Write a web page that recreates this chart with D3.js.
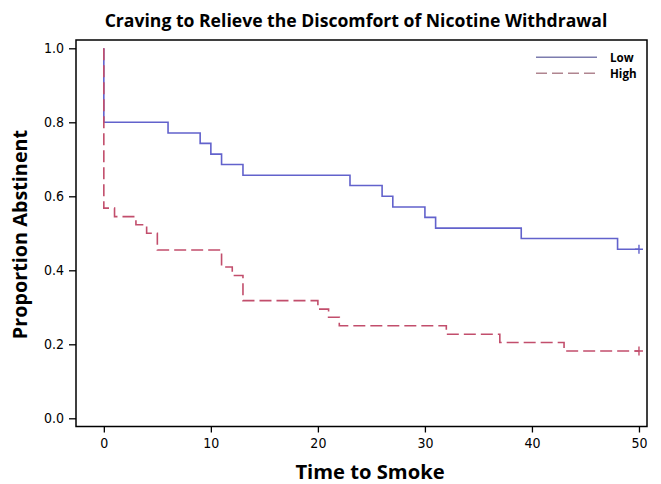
<!DOCTYPE html>
<html>
<head>
<meta charset="utf-8">
<script src="https://cdn.jsdelivr.net/npm/d3@7"></script>
<style>
  body { margin: 0; background: #fff; }
  .tick text { font-family: "Liberation Sans Narrow", "DejaVu Sans Condensed", sans-serif; font-size: 14px; fill: #000; }
  .tick line { stroke: #000; stroke-width: 1.3px; }
</style>
</head>
<body>
<svg id="chart"></svg>
<script>
// Kaplan-Meier steps
const groups = ['Low', 'High'];
const lowTimes = [0, 0, 6, 9, 10, 11, 13, 23, 26, 27, 30, 31, 39, 48, 50];
const lowSurv = [1.0, 0.800, 0.771, 0.743, 0.714, 0.686, 0.657, 0.629, 0.600, 0.571, 0.543, 0.514, 0.486, 0.457, 0.457];
const highTimes = [0, 0, 1, 3, 4, 5, 11, 12, 13, 20, 21, 22, 32, 37, 43, 50];
const highSurv = [1.0, 0.568, 0.545, 0.523, 0.500, 0.455, 0.409, 0.386, 0.318, 0.295, 0.273, 0.250, 0.227, 0.205, 0.182, 0.182];
const xTicks = [0, 10, 20, 30, 40, 50];
const yTicks = [0.0, 0.2, 0.4, 0.6, 0.8, 1.0];

let w = 661;
let h = 484;
let box = {left: 76, right: 647, top: 40, bottom: 426.5};

let colors = (i) => ['#6262cc', '#c24e6c'][i];
let legendColors = (i) => ['#7c7cae', '#b08590'][i];

let svg = d3.select('#chart')
    .attr('width', w)
    .attr('height', h);

let x = d3.scaleLinear()
    .domain([-2.6, 50.75])
    .range([box.left, box.right]);

let y = d3.scaleLinear()
    .domain([0, 1])
    .range([418.3, 48.3]);

//title
svg.append('text')
    .attr('x', 356)
    .attr('y', 27)
    .attr('text-anchor', 'middle')
    .style('font-family', '"Open Sans", sans-serif')
    .style('font-weight', 'bold')
    .style('font-size', '17.6px')
    .text('Craving to Relieve the Discomfort of Nicotine Withdrawal');

//axes
let xAxis = svg.append('g')
    .attr('transform', `translate(0,${box.bottom})`)
    .call(d3.axisBottom(x).tickValues(xTicks).tickSize(6).tickPadding(6));
xAxis.select('.domain').remove();

let yAxis = svg.append('g')
    .attr('transform', `translate(${box.left},0)`)
    .call(d3.axisLeft(y).tickValues(yTicks).tickSize(7).tickPadding(5).tickFormat(d3.format('.1f')));
yAxis.select('.domain').remove();

//axis labels
svg.append('text')
    .attr('x', 370)
    .attr('y', 479)
    .attr('text-anchor', 'middle')
    .style('font-family', '"Open Sans", sans-serif')
    .style('font-weight', 'bold')
    .style('font-size', '20.2px')
    .text('Time to Smoke');

svg.append('text')
    .attr('transform', 'translate(27,234.5) rotate(-90)')
    .attr('text-anchor', 'middle')
    .style('font-family', '"Open Sans", sans-serif')
    .style('font-weight', 'bold')
    .style('font-size', '19.8px')
    .text('Proportion Abstinent');

//step curves
let line = d3.line()
    .x((d) => x(d[0]))
    .y((d) => y(d[1]))
    .curve(d3.curveStepAfter);

let series = [d3.zip(lowTimes, lowSurv), d3.zip(highTimes, highSurv)];

series.forEach((pts, i) => {
    svg.append('path')
        .datum(pts)
        .attr('d', line)
        .attr('fill', 'none')
        .attr('stroke', colors(i))
        .attr('stroke-width', 1.6)
        .attr('stroke-dasharray', i == 1 ? '12,5' : null);

    //censor mark at the last time
    let last = pts[pts.length - 1];
    svg.append('path')
        .attr('d', `M${x(last[0])},${y(last[1]) - 4.5}V${y(last[1]) + 4.5}M${x(last[0]) - 4},${y(last[1])}H${x(last[0]) + 4}`)
        .attr('stroke', colors(i))
        .attr('stroke-width', 1.4);
});

//frame
svg.append('rect')
    .attr('x', box.left)
    .attr('y', box.top)
    .attr('width', box.right - box.left)
    .attr('height', box.bottom - box.top)
    .attr('fill', 'none')
    .attr('stroke', '#000')
    .attr('stroke-width', 1.5);

//legend
let legend = svg.selectAll('g.legend')
    .data(groups)
    .enter()
    .append('g')
        .attr('class', 'legend')
        .attr('transform', (d, i) => `translate(0,${57.3 + i * 16})`);
legend.append('line')
    .attr('x1', 536)
    .attr('x2', 597)
    .attr('stroke', (d, i) => legendColors(i))
    .attr('stroke-width', 1.4)
    .attr('stroke-dasharray', (d, i) => i == 1 ? '11,5' : null);
legend.append('text')
    .attr('x', 610)
    .attr('y', 4.2)
    .style('font-family', '"Open Sans", sans-serif')
    .style('font-weight', 'bold')
    .style('font-size', '11.6px')
    .text((d) => d);
</script>
</body>
</html>
